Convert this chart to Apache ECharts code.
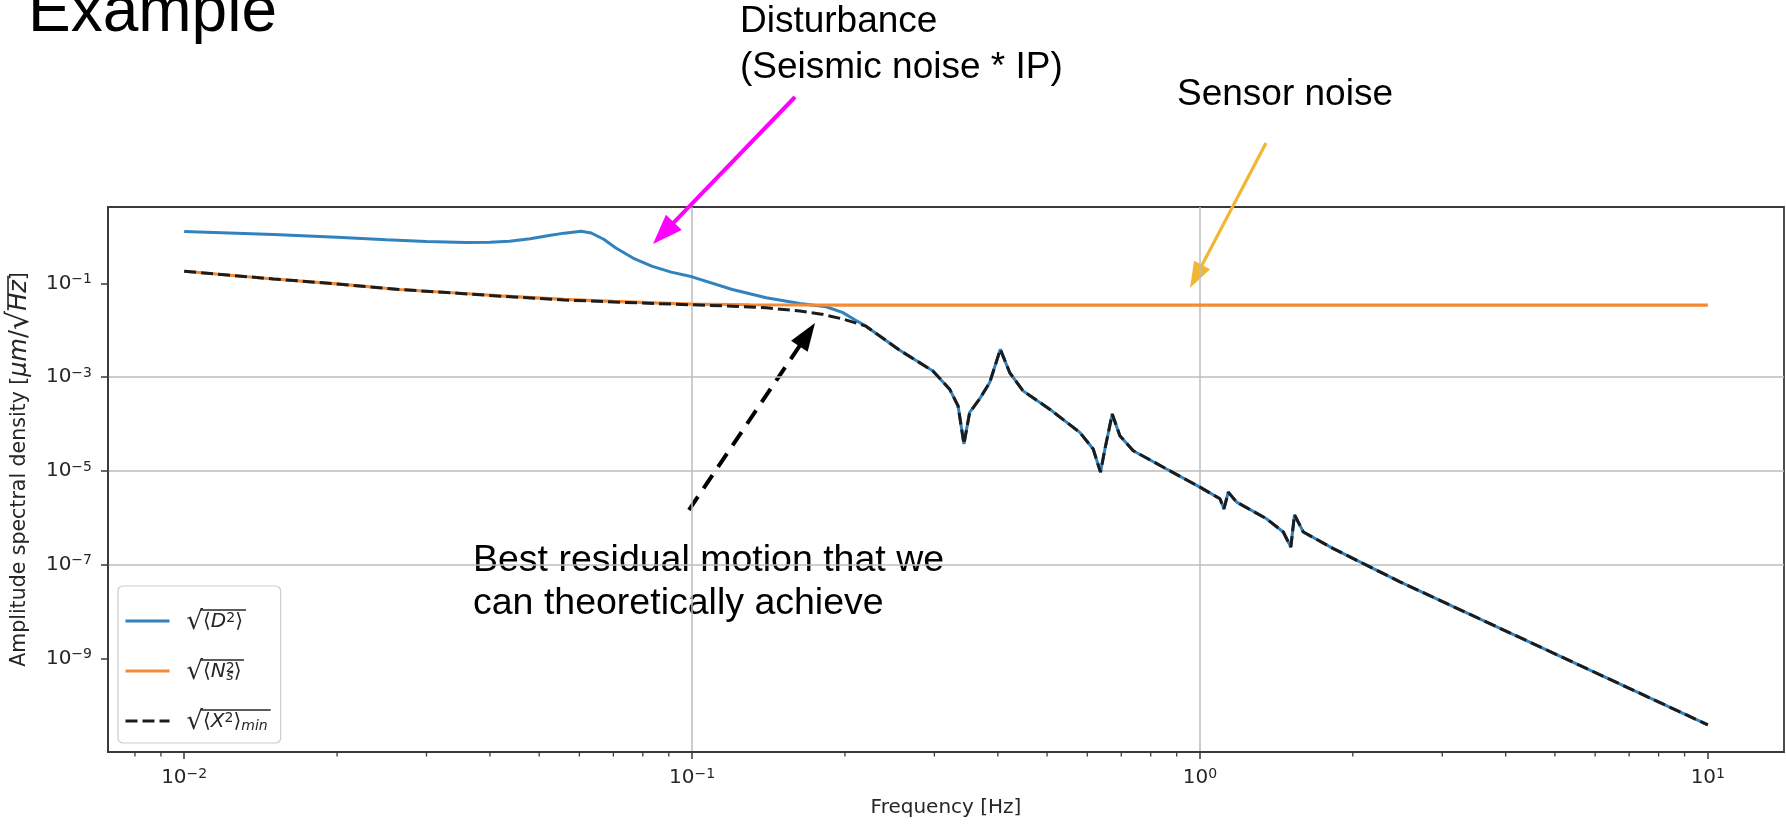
<!DOCTYPE html>
<html>
<head>
<meta charset="utf-8">
<script src="https://cdn.jsdelivr.net/npm/echarts@6/dist/echarts.min.js"></script>
<style>
  html, body { margin: 0; padding: 0; background: #ffffff; }
  #chart { width: 1786px; height: 824px; }
</style>
</head>
<body>
<div id="chart"></div>
<script>
// Frequencies in Hz, amplitude spectral densities in µm/√Hz.

// Disturbance (seismic noise through the IP), below ~0.2 Hz
const freqD = [0.01, 0.015, 0.02, 0.025, 0.03, 0.0358, 0.04, 0.0437, 0.048, 0.0523, 0.056, 0.0605, 0.0633, 0.067, 0.0708, 0.0765, 0.0835, 0.091, 0.1, 0.12, 0.14, 0.163, 0.1836, 0.1977, 0.21];
const asdD  = [1.29, 1.11, 0.97, 0.86, 0.79, 0.75, 0.76, 0.80, 0.90, 1.06, 1.19, 1.30, 1.20, 0.88, 0.575, 0.35, 0.233, 0.175, 0.139, 0.0745, 0.0497, 0.0375, 0.0319, 0.0242, 0.0165];

// Sensor noise
const freqN = [0.01, 0.015, 0.02, 0.0265, 0.035, 0.042, 0.056, 0.07, 0.085, 0.1, 0.13, 0.2, 0.5, 1, 10];
const asdN  = [0.183, 0.125, 0.098, 0.0745, 0.062, 0.0545, 0.046, 0.0415, 0.0385, 0.0365, 0.0352, 0.0347, 0.0345, 0.0345, 0.0345];

// Best achievable residual motion, below ~0.2 Hz
const freqX = [0.01, 0.015, 0.02, 0.0265, 0.035, 0.042, 0.056, 0.07, 0.085, 0.1, 0.12, 0.14, 0.163, 0.18, 0.1977];
const asdX  = [0.183, 0.125, 0.098, 0.0745, 0.0615, 0.0537, 0.0445, 0.0405, 0.0372, 0.0352, 0.0328, 0.0304, 0.0258, 0.0222, 0.0176];

// Above ~0.22 Hz the disturbance and the residual are the same curve
const freqTail = [0.22, 0.256, 0.298, 0.3215, 0.334, 0.343, 0.352, 0.368, 0.3855, 0.4046, 0.422, 0.4484, 0.506, 0.58, 0.6163, 0.637, 0.65, 0.6718, 0.6956, 0.7389, 0.8596, 1.0, 1.095, 1.115, 1.137, 1.181, 1.353, 1.459, 1.51, 1.535, 1.598, 1.831, 2.477, 10];
const asdTail  = [0.0123, 0.0038, 1.36e-3, 5.56e-4, 2.45e-4, 3.75e-5, 1.77e-4, 3.4e-4, 7.7e-4, 3.94e-3, 1.26e-3, 5.11e-4, 2.08e-4, 6.65e-5, 2.94e-5, 9.4e-6, 2.94e-5, 1.63e-4, 5.64e-5, 2.7e-5, 1.1e-5, 4.5e-6, 2.54e-6, 1.55e-6, 3.52e-6, 2.16e-6, 9.5e-7, 4.97e-7, 2.38e-7, 1.16e-6, 4.97e-7, 2.19e-7, 4.29e-8, 3.8e-11];

// Axis ticks
const majorTicksX = [0.01, 0.1, 1, 10];
const minorTicksX = [0.008, 0.009,
  0.02, 0.03, 0.04, 0.05, 0.06, 0.07, 0.08, 0.09,
  0.2, 0.3, 0.4, 0.5, 0.6, 0.7, 0.8, 0.9,
  2, 3, 4, 5, 6, 7, 8, 9];
const majorTicksY = [1e-9, 1e-7, 1e-5, 1e-3, 1e-1];

const pairs = (xs, ys) => xs.map((x, i) => [x, ys[i]]);

const FONT = '"DejaVu Sans", sans-serif';
const TEXT = '#262626';

// text widths for the radical overlines
const ctx = document.createElement('canvas').getContext('2d');
function tw(text, size, italic) {
  ctx.font = (italic ? 'italic ' : '') + size + 'px "DejaVu Sans"';
  return ctx.measureText(text).width;
}

// 10^n tick labels
function powLabel(v) {
  const l = Math.log10(v);
  const k = Math.round(l);
  if (Math.abs(l - k) > 1e-6) return '';
  return '{b|10}{e|' + (k < 0 ? '\u2212' + (-k) : String(k)) + '}';
}
const powRich = {
  b: { fontFamily: FONT, fontSize: 20, lineHeight: 22, color: TEXT },
  e: { fontFamily: FONT, fontSize: 14, lineHeight: 14, verticalAlign: 'top', color: TEXT }
};

// math-style label rich styles
const mathRich = {
  gap: { width: 12, fontSize: 20, lineHeight: 2 },
  gap2: { width: 12, fontSize: 20, lineHeight: 22 },
  pad: { fontSize: 20, lineHeight: 2 },
  bar: { height: 1.6, lineHeight: 2, backgroundColor: TEXT, fontSize: 2 },
  r: { fontFamily: FONT, fontSize: 26, lineHeight: 22, color: TEXT },
  u: { fontFamily: FONT, fontSize: 20, lineHeight: 22, color: TEXT },
  i: { fontFamily: FONT, fontSize: 20, fontStyle: 'italic', lineHeight: 22, color: TEXT },
  sup: { fontFamily: FONT, fontSize: 14, lineHeight: 10, verticalAlign: 'top', color: TEXT },
  supz: { fontFamily: FONT, fontSize: 14, lineHeight: 10, verticalAlign: 'top', color: TEXT, width: 0.5 },
  sub: { fontFamily: FONT, fontSize: 14, fontStyle: 'italic', lineHeight: 10, verticalAlign: 'bottom', color: TEXT }
};

function overlined(parts) {
  // parts: [styleName, text] following the radical
  let w = 0;
  parts.forEach(([s, t]) => {
    if (s === 'supz') return;
    w += tw(t, mathRich[s].fontSize, mathRich[s].fontStyle === 'italic');
  });
  const rw = tw('\u221a', mathRich.r.fontSize, false);
  return { w: w + 3, rw, body: parts.map(([s, t]) => '{' + s + '|' + t + '}').join('') };
}

const legendLabels = {
  D: [['u', '\u27e8'], ['i', 'D'], ['sup', '2'], ['u', '\u27e9']],
  Ns: [['u', '\u27e8'], ['i', 'N'], ['supz', '2'], ['sub', 's'], ['u', '\u27e9']],
  Xmin: [['u', '\u27e8'], ['i', 'X'], ['sup', '2'], ['u', '\u27e9'], ['sub', 'min']]
};
const legendRich = Object.assign({}, mathRich);
const legendText = {};
Object.keys(legendLabels).forEach((k) => {
  const o = overlined(legendLabels[k]);
  legendRich['pad_' + k] = Object.assign({}, mathRich.pad, { width: o.rw - 2 });
  legendRich['bar_' + k] = Object.assign({}, mathRich.bar, { width: o.w + 2 });
  legendText[k] = '{gap| }{pad_' + k + '| }{bar_' + k + '| }\n{gap2| }{r|\u221a}' + o.body;
});

// y axis title with overline on Hz
const yPre = 'Amplitude spectral density [';
const yBase = 20.5, yMath = 24, yRad = 30, yLead = 20;
const yPreW = yLead + tw(yPre, yBase, false) + tw('\u03bcm', yMath, true) + tw('/', yMath, false) + tw('\u221a', yRad, false);
const yHzW = tw('Hz', yMath, true);
const yRich = {
  lead: { width: yLead, fontSize: yBase, lineHeight: 22 },
  ypad: { width: yPreW - 3, fontSize: yBase, lineHeight: 2 },
  ybar: { width: yHzW + 4, height: 1.6, lineHeight: 2, backgroundColor: TEXT, fontSize: 2 },
  yt: { fontFamily: FONT, fontSize: yBase, lineHeight: 22, color: TEXT },
  yr: { fontFamily: FONT, fontSize: yRad, lineHeight: 22, color: TEXT },
  ym: { fontFamily: FONT, fontSize: yMath, fontStyle: 'italic', lineHeight: 22, color: TEXT },
  yu: { fontFamily: FONT, fontSize: yMath, lineHeight: 22, color: TEXT }
};
const yName = '{ypad| }{ybar| }\n{lead| }{yt|' + yPre + '}{ym|\u03bcm}{yu|/}{yr|\u221a}{ym|Hz}{yt|]}';

// arrow helpers for annotations
function arrow(x1, y1, x2, y2, color, width, dash, headLen, headHalf) {
  const dx = x2 - x1, dy = y2 - y1, L = Math.hypot(dx, dy);
  const ux = dx / L, uy = dy / L;
  const bx = x2 - ux * headLen, by = y2 - uy * headLen;
  return [
    {
      type: 'line', silent: true,
      shape: { x1: x1, y1: y1, x2: bx + ux * 2, y2: by + uy * 2 },
      style: { stroke: color, lineWidth: width, lineDash: dash || null }
    },
    {
      type: 'polygon', silent: true,
      shape: { points: [[x2, y2], [bx - uy * headHalf, by + ux * headHalf], [bx + uy * headHalf, by - ux * headHalf]] },
      style: { fill: color }
    }
  ];
}
function label(text, x, y, size) {
  return {
    type: 'text', x: x, y: y, silent: true,
    style: {
      text: text, fontFamily: '"Liberation Sans", Arial, sans-serif', fontSize: size,
      fill: '#000', align: 'left', verticalAlign: 'middle', textAlign: 'left', textVerticalAlign: 'middle'
    }
  };
}

const chart = echarts.init(document.getElementById('chart'), null, { renderer: 'canvas' });

const option = {
  animation: false,
  backgroundColor: '#ffffff',
  grid: {
    left: 108, right: 2, top: 207, bottom: 72,
    containLabel: false, outerBoundsMode: 'none',
    show: true, borderColor: '#3a3a3a', borderWidth: 1.8, backgroundColor: 'transparent'
  },
  xAxis: {
    type: 'log', logBase: 10,
    min: Math.pow(10, -2.15), max: Math.pow(10, 1.15),
    name: 'Frequency [Hz]', nameLocation: 'middle', nameGap: 46,
    nameTextStyle: { fontFamily: FONT, fontSize: 20, color: TEXT },
    axisLine: { show: true, lineStyle: { color: '#3a3a3a', width: 1.8 } },
    axisTick: { show: true, length: 7, customValues: majorTicksX, lineStyle: { color: '#3a3a3a', width: 1.5 } },
    axisLabel: {
      customValues: majorTicksX, margin: 15,
      formatter: powLabel, rich: powRich
    },
    splitLine: { show: true, showMinLine: false, showMaxLine: false, lineStyle: { color: '#bdbdbd', width: 1.5 } },
    minorTick: { show: false },
    minorSplitLine: { show: false }
  },
  yAxis: {
    type: 'log', logBase: 10,
    min: 1e-11, max: 4.3, interval: 2,
    name: yName, nameLocation: 'middle', nameGap: 75, nameRotate: 90,
    nameTextStyle: { fontFamily: FONT, fontSize: yBase, color: TEXT, rich: yRich },
    axisLine: { show: true, lineStyle: { color: '#3a3a3a', width: 1.8 } },
    axisTick: { show: true, length: 7, customValues: majorTicksY, lineStyle: { color: '#3a3a3a', width: 1.5 } },
    axisLabel: {
      customValues: majorTicksY, margin: 16,
      formatter: powLabel, rich: powRich
    },
    splitLine: { show: true, showMinLine: false, showMaxLine: false, lineStyle: { color: '#bdbdbd', width: 1.5 } }
  },
  legend: {
    data: ['D', 'Ns', 'Xmin'],
    orient: 'vertical', left: 118, top: 586,
    padding: [14, 10, 8, 6],
    itemWidth: 44, itemHeight: 30, itemGap: 15,
    backgroundColor: 'rgba(255,255,255,0.8)',
    borderColor: '#cccccc', borderWidth: 1.2, borderRadius: 5,
    itemStyle: { opacity: 0, borderWidth: 0 },
    lineStyle: { width: 3 },
    formatter: (name) => legendText[name],
    textStyle: { fontFamily: FONT, fontSize: 20, color: TEXT, rich: legendRich }
  },
  series: [
    {
      name: 'D', type: 'line', symbol: 'none', z: 2,
      data: pairs(freqD, asdD).concat(pairs(freqTail, asdTail)),
      lineStyle: { color: '#3282bd', width: 3 },
      itemStyle: { color: '#3282bd' }
    },
    {
      name: 'Ns', type: 'line', symbol: 'none', z: 3,
      data: pairs(freqN, asdN),
      lineStyle: { color: '#f48a35', width: 3.2 },
      itemStyle: { color: '#f48a35' }
    },
    {
      name: 'Xmin', type: 'line', symbol: 'none', z: 4,
      data: pairs(freqX, asdX).concat(pairs(freqTail, asdTail)),
      lineStyle: { color: '#1c1c1c', width: 3, type: [12, 5] },
      itemStyle: { color: '#1c1c1c' }
    },
    {
      name: 'minorTicks', type: 'custom', silent: true, clip: false, z: 5,
      data: minorTicksX.map((v) => [v, 1]),
      renderItem: (params, api) => {
        const x = api.coord([api.value(0), 1])[0];
        const cs = params.coordSys;
        const y = cs.y + cs.height;
        return {
          type: 'line',
          shape: { x1: x, y1: y, x2: x, y2: y + 4.5 },
          style: { stroke: '#3a3a3a', lineWidth: 1.3 }
        };
      }
    }
  ],
  graphic: [
    label('Example', 28, 13, 64),
    label('Disturbance', 740, 22, 37),
    label('(Seismic noise * IP)', 740, 68, 37),
    label('Sensor noise', 1177, 95, 37),
    label('Best residual motion that we', 473, 561, 37.5),
    label('can theoretically achieve', 473, 604, 37.5)
  ]
    .concat(arrow(795, 97, 653, 244, '#ff00ff', 4, null, 30, 11))
    .concat(arrow(1266, 143, 1190, 288, '#f2b632', 3.2, null, 26, 9))
    .concat(arrow(689, 510, 815, 323, '#000000', 4, [16, 10], 28, 10))
};

chart.setOption(option);
</script>
</body>
</html>
